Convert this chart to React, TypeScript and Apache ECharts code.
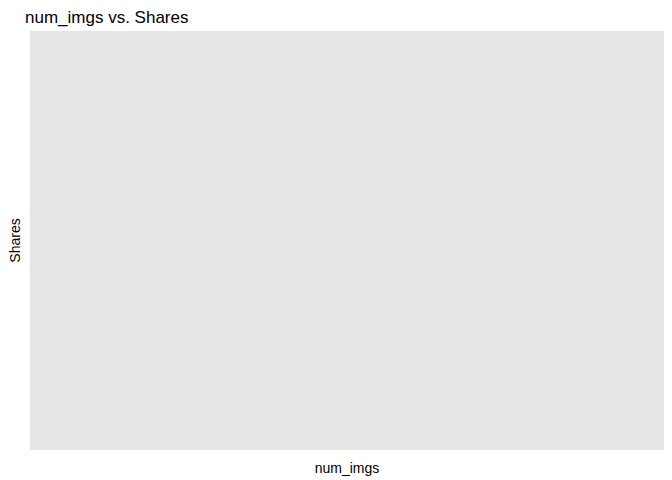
import React, { useEffect, useRef } from "react";
import * as echarts from "echarts";

// the reference panel is empty: no points plotted
const numImgs: number[] = [];
const shares: number[] = [];

const App: React.FC = () => {
  const chartRef = useRef<HTMLDivElement>(null);

  useEffect(() => {
    document.body.style.margin = "0";
    if (!chartRef.current) return;
    const chart = echarts.init(chartRef.current, undefined, { renderer: "svg" });

    const option = {
      animation: false,
      backgroundColor: "#ffffff",
      textStyle: { fontFamily: "Liberation Sans, Arial, sans-serif" },
      title: {
        text: "num_imgs vs. Shares",
        left: 20,
        top: 4,
        textStyle: { fontSize: 17, fontWeight: "normal", color: "#000" },
      },
      grid: {
        left: 25,
        right: 8,
        top: 31,
        bottom: 26,
        show: true,
        backgroundColor: "#E5E5E5",
        borderWidth: 0,
      },
      xAxis: {
        type: "value",
        name: "num_imgs",
        nameLocation: "middle",
        nameGap: 11,
        nameTextStyle: { fontSize: 14, color: "#000" },
        axisLine: { show: false },
        axisTick: { show: false },
        axisLabel: { show: false },
        splitLine: { show: false },
      },
      yAxis: {
        type: "value",
        name: "Shares",
        nameLocation: "middle",
        nameGap: 8,
        nameTextStyle: { fontSize: 14, color: "#000" },
        axisLine: { show: false },
        axisTick: { show: false },
        axisLabel: { show: false },
        splitLine: { show: false },
      },
      series: [
        {
          type: "scatter",
          data: numImgs.map((x, i) => [x, shares[i]]),
        },
      ],
    };

    chart.setOption(option);
    return () => chart.dispose();
  }, []);

  return <div ref={chartRef} style={{ width: "672px", height: "480px" }} />;
};

export default App;
